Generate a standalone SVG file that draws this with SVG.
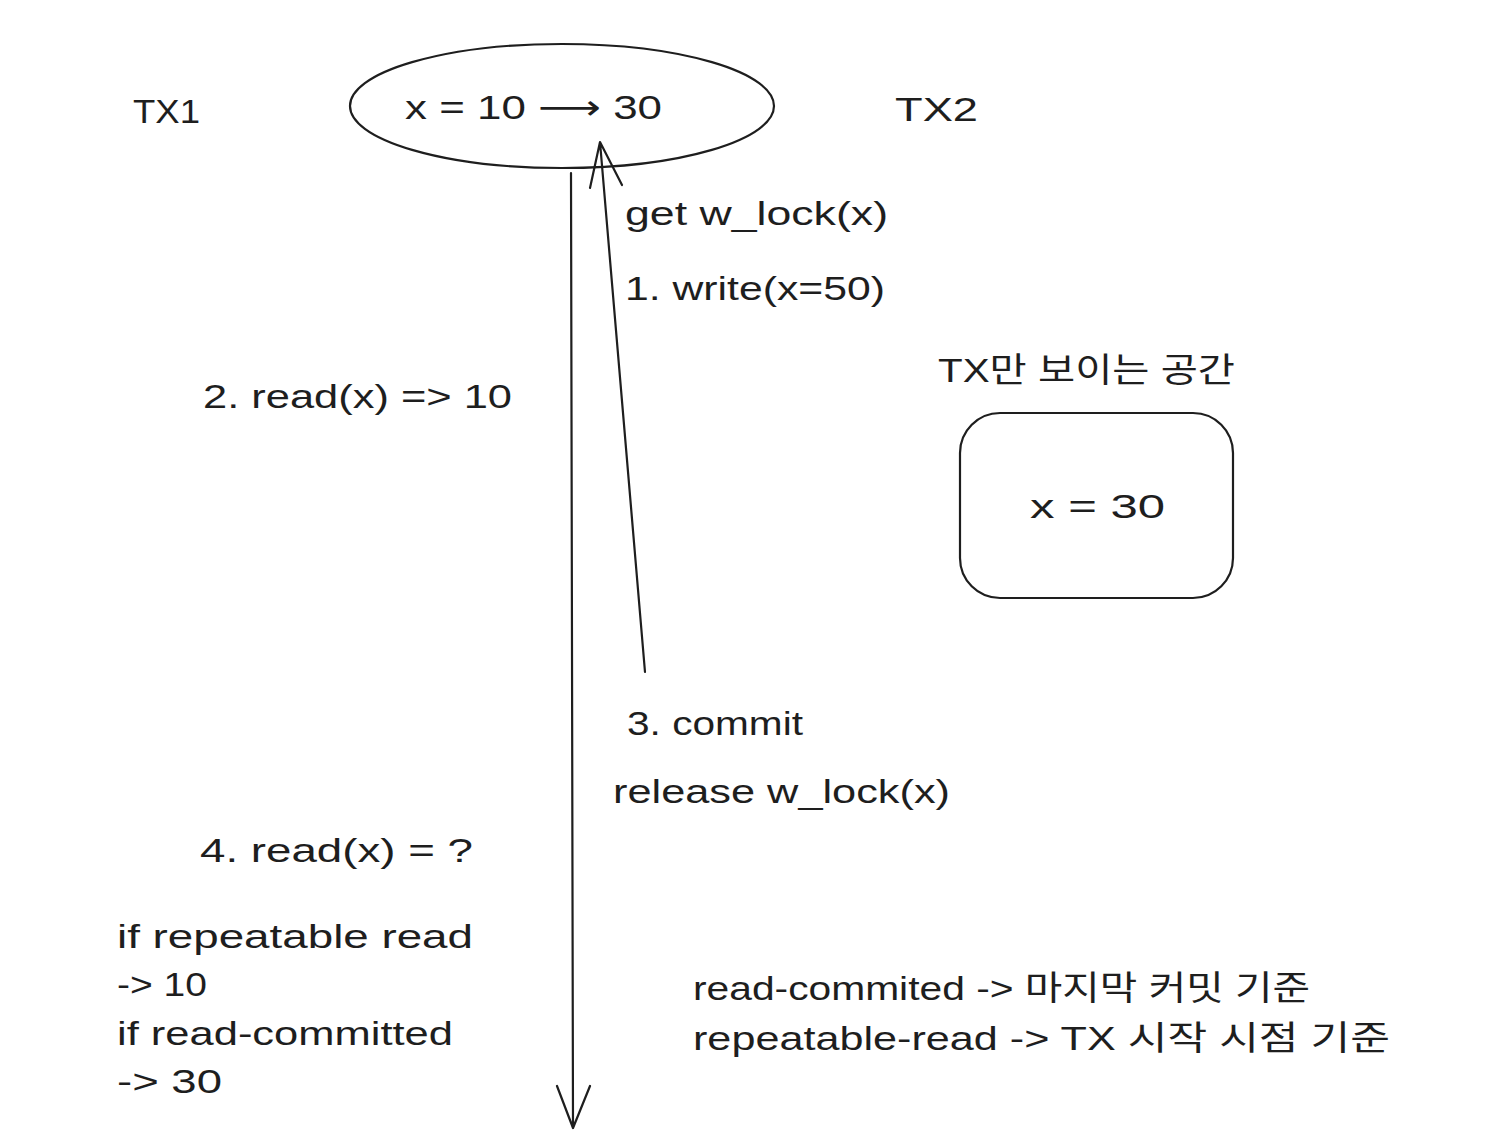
<svg xmlns="http://www.w3.org/2000/svg" width="1494" height="1132" viewBox="0 0 1494 1132">
<style>
.t{font-family:"Liberation Sans","Noto Sans CJK KR",sans-serif;font-size:34px;fill:#1e1e1e}
.a{font-family:"DejaVu Sans",sans-serif}
.s{fill:none;stroke:#1e1e1e;stroke-width:2.2;stroke-linecap:round;stroke-linejoin:round}
</style>
<rect width="1494" height="1132" fill="#ffffff"/>
<g id="tx1"><text class="t" x="133" y="123" textLength="67" lengthAdjust="spacingAndGlyphs">TX1</text></g>
<g id="db">
<ellipse class="s" cx="562" cy="106" rx="212" ry="62"/>
<text class="t" x="405" y="119" textLength="257" lengthAdjust="spacingAndGlyphs">x = 10 <tspan class="a">⟶</tspan> 30</text>
</g>
<g id="tx2"><text class="t" x="895" y="121" textLength="83" lengthAdjust="spacingAndGlyphs">TX2</text></g>
<g id="connectors">
<path class="s" d="M571 173 L573 1128 M557 1086 L573 1128 L590 1086"/>
<path class="s" d="M645 672 L600 142 M590 188 L600 142 L622 185"/>
</g>
<g id="labels">
<text class="t" x="625" y="225" textLength="263" lengthAdjust="spacingAndGlyphs">get w_lock(x)</text>
<text class="t" x="625" y="300" textLength="260" lengthAdjust="spacingAndGlyphs">1. write(x=50)</text>
<text class="t" x="203" y="408" textLength="309" lengthAdjust="spacingAndGlyphs">2. read(x) =&gt; 10</text>
<text class="t" x="627" y="735" textLength="176" lengthAdjust="spacingAndGlyphs">3. commit</text>
<text class="t" x="613" y="803" textLength="337" lengthAdjust="spacingAndGlyphs">release w_lock(x)</text>
<text class="t" x="200" y="862" textLength="273" lengthAdjust="spacingAndGlyphs">4. read(x) = ?</text>
<text class="t" x="117" y="948" textLength="356" lengthAdjust="spacingAndGlyphs">if repeatable read</text>
<text class="t" x="117" y="996" textLength="90" lengthAdjust="spacingAndGlyphs">-&gt; 10</text>
<text class="t" x="117" y="1045" textLength="336" lengthAdjust="spacingAndGlyphs">if read-committed</text>
<text class="t" x="117" y="1093" textLength="105" lengthAdjust="spacingAndGlyphs">-&gt; 30</text>
<text class="t" x="693" y="1000" textLength="617" lengthAdjust="spacingAndGlyphs">read-commited -&gt; 마지막 커밋 기준</text>
<text class="t" x="693" y="1050" textLength="697" lengthAdjust="spacingAndGlyphs">repeatable-read -&gt; TX 시작 시점 기준</text>
</g>
<g id="space">
<text class="t" x="938" y="382" textLength="297" lengthAdjust="spacingAndGlyphs">TX만 보이는 공간</text>
<rect class="s" x="960" y="413" width="273" height="185" rx="40"/>
<text class="t" x="1030" y="518" textLength="135" lengthAdjust="spacingAndGlyphs">x = 30</text>
</g>
</svg>
